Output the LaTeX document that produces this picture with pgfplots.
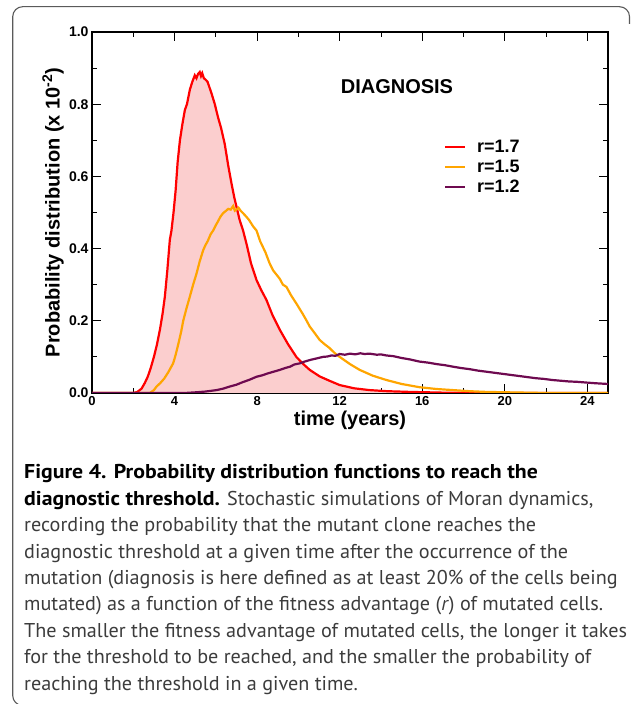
\documentclass[border=0pt]{standalone}
\usepackage{fontspec}
\setmainfont{Liberation Sans}
\newfontfamily\capfont{PT Sans}[FakeStretch=1.009]
\newfontfamily\capbold{PT Sans}[FakeStretch=1.09]
\usepackage{pgfplots}
\pgfplotsset{compat=1.18}
\definecolor{cred}{RGB}{255,0,0}
\definecolor{corange}{RGB}{255,165,0}
\definecolor{cpurple}{RGB}{110,10,80}
\definecolor{cfill}{RGB}{251,206,206}
\definecolor{cframe}{RGB}{90,90,90}
\definecolor{captext}{RGB}{60,60,60}
\begin{document}
\begin{tikzpicture}
\path[use as bounding box] (0,0) rectangle (631pt,704pt);
\draw[cframe, line width=1.1pt, rounded corners=10pt] (24pt,-1.5pt) -- (12.7pt,-1.5pt) -- (12.7pt,697.3pt) -- (629.5pt,697.3pt) -- (629.5pt,680pt);
\begin{axis}[
  at={(92pt,311pt)}, anchor=south west,
  width=516pt, height=361pt, scale only axis,
  xmin=0, xmax=25, ymin=0, ymax=1,
  xtick={0,4,8,12,16,20,24},
  ytick={0,0.2,0.4,0.6,0.8,1.0},
  minor x tick num=1, minor y tick num=1,
  axis line style={line width=1.8pt},
  every tick/.append style={black, line width=0.8pt},
  major tick length=9pt, minor tick length=5pt,
  /pgf/number format/assume math mode=true,
  yticklabel style={font=\bfseries\fontsize{14}{14}\selectfont, /pgf/number format/.cd, fixed, fixed zerofill, precision=1},
  xticklabel style={font=\bfseries\fontsize{13}{13}\selectfont},
  xlabel={time (years)},
  ylabel={Probability distribution (x 10\textsuperscript{-2})},
  xlabel style={font=\bfseries\fontsize{20}{20}\selectfont, at={(axis description cs:0.5,-0.077)}, anchor=center},
  ylabel style={font=\bfseries\fontsize{20}{20}\selectfont, at={(axis description cs:-0.0756,0.5)}, anchor=center},
  legend style={at={(axis description cs:0.676,0.712)}, anchor=north west, draw=none, fill=none,
    font=\bfseries\fontsize{18}{18}\selectfont, row sep=2pt, column sep=9pt,
    nodes={inner sep=2pt}},
  legend cell align=left,
  legend image code/.code={\draw[#1, line width=2.2pt] (0pt,0pt) -- (20pt,0pt);},
  clip=true,
]
\addplot[fill=cfill, draw=none, forget plot] coordinates {
(0,0)(2.0,0)(2.2,0.003)(2.4,0.012)(2.56,0.028)(2.7,0.045)(2.85,0.07)(3.0,0.10)(3.15,0.135)(3.29,0.175)(3.42,0.22)(3.53,0.267)(3.65,0.34)(3.77,0.424)(3.85,0.45)(3.95,0.50)(4.05,0.56)(4.15,0.64)(4.26,0.70)(4.38,0.745)(4.5,0.784)(4.6,0.80)(4.74,0.84)(4.86,0.862)(4.98,0.88)(5.06,0.872)(5.14,0.884)(5.22,0.889)(5.28,0.878)(5.34,0.886)(5.42,0.872)(5.5,0.868)(5.6,0.862)(5.7,0.845)(5.79,0.83)(5.95,0.80)(6.1,0.765)(6.25,0.735)(6.43,0.69)(6.6,0.63)(6.76,0.58)(6.9,0.54)(7.0,0.516)(7.15,0.48)(7.32,0.45)(7.5,0.41)(7.7,0.36)(7.97,0.313)(8.2,0.285)(8.45,0.258)(8.75,0.215)(9.1,0.175)(9.5,0.135)(9.9,0.10)(10.2,0.082)(10.55,0.064)(11.03,0.046)(11.5,0.034)(12,0.022)(12.7,0.013)(13.45,0.008)(14.3,0.005)(15.4,0.003)(17,0.001)(19,0)(25,0)
} \closedcycle;
\addplot[cred, line width=2.2pt] coordinates {
(0,0)(2.0,0)(2.2,0.003)(2.4,0.012)(2.56,0.028)(2.7,0.045)(2.85,0.07)(3.0,0.10)(3.15,0.135)(3.29,0.175)(3.42,0.22)(3.53,0.267)(3.65,0.34)(3.77,0.424)(3.85,0.45)(3.95,0.50)(4.05,0.56)(4.15,0.64)(4.26,0.70)(4.38,0.745)(4.5,0.784)(4.6,0.80)(4.74,0.84)(4.86,0.862)(4.98,0.88)(5.06,0.872)(5.14,0.884)(5.22,0.889)(5.28,0.878)(5.34,0.886)(5.42,0.872)(5.5,0.868)(5.6,0.862)(5.7,0.845)(5.79,0.83)(5.95,0.80)(6.1,0.765)(6.25,0.735)(6.43,0.69)(6.6,0.63)(6.76,0.58)(6.9,0.54)(7.0,0.516)(7.15,0.48)(7.32,0.45)(7.5,0.41)(7.7,0.36)(7.97,0.313)(8.2,0.285)(8.45,0.258)(8.75,0.215)(9.1,0.175)(9.5,0.135)(9.9,0.10)(10.2,0.082)(10.55,0.064)(11.03,0.046)(11.5,0.034)(12,0.022)(12.7,0.013)(13.45,0.008)(14.3,0.005)(15.4,0.003)(17,0.001)(19,0)(25,0)
};
\addlegendentry{r=1.7}
\addplot[corange, line width=2.2pt] coordinates {
(0,0)(2.8,0)(3.0,0.008)(3.13,0.018)(3.3,0.027)(3.5,0.04)(3.7,0.058)(3.93,0.082)(4.05,0.105)(4.2,0.14)(4.32,0.17)(4.42,0.20)(4.58,0.235)(4.74,0.267)(4.9,0.30)(5.06,0.33)(5.22,0.365)(5.39,0.396)(5.5,0.41)(5.6,0.42)(5.75,0.44)(5.87,0.45)(6.0,0.465)(6.1,0.475)(6.22,0.488)(6.35,0.498)(6.5,0.505)(6.6,0.51)(6.72,0.508)(6.84,0.518)(6.92,0.505)(7.0,0.508)(7.1,0.513)(7.2,0.505)(7.32,0.498)(7.45,0.49)(7.6,0.48)(7.8,0.462)(7.97,0.45)(8.15,0.42)(8.4,0.39)(8.6,0.36)(8.77,0.34)(8.95,0.327)(9.1,0.316)(9.25,0.30)(9.42,0.294)(9.65,0.27)(9.9,0.248)(10.2,0.22)(10.4,0.2)(10.55,0.184)(10.8,0.165)(11.03,0.147)(11.25,0.136)(11.5,0.125)(11.75,0.111)(12,0.10)(12.5,0.08)(12.97,0.064)(13.6,0.048)(14.26,0.036)(15.0,0.025)(15.87,0.016)(16.7,0.011)(17.5,0.008)(18.3,0.005)(19.1,0.003)(21,0.001)(22,0)(25,0)
};
\addlegendentry{r=1.5}
\addplot[cpurple, line width=2.2pt] coordinates {
(0,0)(4.5,0)(5.06,0.002)(5.5,0.004)(6.03,0.008)(6.35,0.012)(6.68,0.018)(7.0,0.023)(7.3,0.03)(7.6,0.036)(7.97,0.045)(8.25,0.049)(8.5,0.054)(8.8,0.059)(9.1,0.064)(9.35,0.069)(9.6,0.073)(9.8,0.079)(10.06,0.082)(10.3,0.087)(10.6,0.092)(10.9,0.096)(11.19,0.10)(11.4,0.101)(11.6,0.104)(11.8,0.103)(12,0.108)(12.25,0.106)(12.5,0.109)(12.75,0.107)(13,0.110)(13.2,0.108)(13.45,0.109)(13.8,0.106)(14.0,0.107)(14.26,0.104)(14.6,0.102)(15,0.097)(15.4,0.093)(15.87,0.087)(16.3,0.084)(16.7,0.080)(17.1,0.077)(17.48,0.073)(17.9,0.069)(18.3,0.066)(18.7,0.062)(19.1,0.059)(19.5,0.056)(19.9,0.053)(20.3,0.050)(20.7,0.047)(21.1,0.044)(21.5,0.041)(21.9,0.039)(22.3,0.036)(22.7,0.034)(23.1,0.032)(23.5,0.031)(23.93,0.029)(24.4,0.027)(25,0.025)
};
\addlegendentry{r=1.2}
\node[font=\bfseries\fontsize{20}{20}\selectfont] at (axis description cs:0.591,0.85) {DIAGNOSIS};
\end{axis}
\begin{scope}[every node/.style={anchor=base west, inner sep=0pt, font=\capfont\fontsize{20}{20}\selectfont, text=captext}]
\node at (24pt,225pt) {\capbold\bfseries\color{black}Figure 4. Probability distribution functions to reach the};
\node at (24pt,198.6pt) {{\capbold\bfseries\color{black}diagnostic threshold.} Stochastic simulations of Moran dynamics,};
\node at (24pt,172.2pt) {recording the probability that the mutant clone reaches the};
\node at (24pt,145.8pt) {diagnostic threshold at a given time after the occurrence of the};
\node at (24pt,119.4pt) {mutation (diagnosis is here defined as at least 20\% of the cells being};
\node at (24pt,93pt) {mutated) as a function of the fitness advantage (\textit{r}) of mutated cells.};
\node at (24pt,66.6pt) {The smaller the fitness advantage of mutated cells, the longer it takes};
\node at (24pt,40.2pt) {for the threshold to be reached, and the smaller the probability of};
\node at (24pt,13.8pt) {reaching the threshold in a given time.};
\end{scope}
\end{tikzpicture}
\end{document}
